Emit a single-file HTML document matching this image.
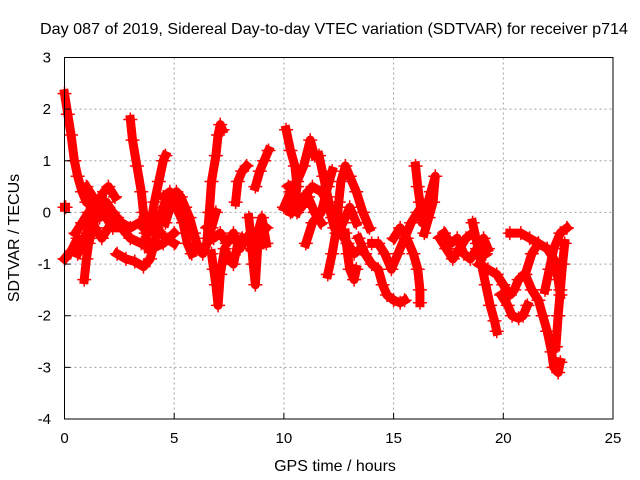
<!DOCTYPE html>
<html><head><meta charset="utf-8"><style>
body{margin:0;background:#fff}
svg{display:block;font-family:"Liberation Sans",sans-serif}
</style></head><body>
<svg id="chart" width="640" height="480" viewBox="0 0 640 480">
<rect width="640" height="480" fill="#fff"/>
<text x="334" y="34" text-anchor="middle" font-size="16" textLength="588" lengthAdjust="spacingAndGlyphs">Day 087 of 2019, Sidereal Day-to-day VTEC variation (SDTVAR) for receiver p714</text>
<g id="grid"></g>
<g id="marks"></g>
<rect x="64.5" y="57.5" width="548.5" height="361.5" fill="none" stroke="#000" stroke-width="1"/>
<g id="ticks"></g>
<text x="335" y="471" text-anchor="middle" font-size="16">GPS time / hours</text>
<text transform="translate(19,238) rotate(-90)" text-anchor="middle" font-size="16">SDTVAR / TECUs</text>
</svg>
<script>
const xTicks=[0,5,10,15,20,25];
const yTicks=[3,2,1,0,-1,-2,-3,-4];
const tracks=[
[[0,2.3],[0.15,1.9],[0.3,1.5],[0.45,1.0],[0.6,0.7],[0.8,0.4],[1.0,0.2],[1.3,0.1],[1.6,0.2],[2.0,0.1],[2.4,-0.1]],
[[0,-0.9],[0.3,-0.75],[0.6,-0.5]],
[[0.6,-0.8],[0.9,-0.5],[1.2,-0.2],[1.5,0.0],[1.9,-0.1],[2.2,-0.3],[2.6,-0.3],[3.0,-0.5],[3.5,-0.6],[4.0,-0.7],[4.5,-0.6],[5.0,-0.4]],
[[0.9,-1.3],[1.0,-0.9],[1.1,-0.6],[1.3,-0.3],[1.5,0.2],[1.8,0.4],[2.0,0.5],[2.3,0.3]],
[[1.0,0.5],[1.3,0.3],[1.6,-0.1],[1.9,0.2],[2.2,0.0],[2.5,-0.2]],
[[0.5,-0.4],[0.8,-0.2],[1.1,0.0],[1.4,-0.3],[1.7,-0.5],[2.0,-0.3]],
[[2.4,-0.8],[2.8,-0.9],[3.2,-0.95],[3.6,-1.05],[3.9,-0.9],[4.1,-0.6],[4.3,-0.2],[4.5,0.1],[4.7,0.3]],
[[2.6,-0.2],[3.0,-0.3],[3.4,-0.2],[3.8,-0.4],[4.2,-0.3],[4.6,-0.5],[5.0,-0.6]],
[[3.0,1.8],[3.1,1.4],[3.3,0.9],[3.5,0.4],[3.6,0.0],[3.7,-0.4],[3.8,-0.7]],
[[3.9,-0.3],[4.1,0.2],[4.3,0.6],[4.5,1.0],[4.6,1.1]],
[[4.6,-0.2],[4.9,0.2],[5.1,0.4],[5.3,0.3],[5.5,0.1],[5.7,-0.1],[5.9,-0.4],[6.1,-0.7],[6.3,-0.8],[6.5,-0.6],[6.7,-0.3],[6.9,0.0]],
[[4.5,0.3],[4.8,0.4],[5.1,0.1],[5.4,-0.2],[5.6,-0.6],[5.8,-0.8]],
[[6.5,-0.5],[6.6,0.0],[6.7,0.6],[6.9,1.1],[7.0,1.5],[7.1,1.7],[7.2,1.6]],
[[6.7,-0.8],[6.8,-1.1],[6.9,-1.4],[7.0,-1.8],[7.1,-1.2],[7.3,-0.7],[7.5,-0.9],[7.7,-1.0],[7.9,-0.6],[8.1,-0.5]],
[[6.5,-0.3],[6.8,-0.5],[7.1,-0.4],[7.4,-0.6],[7.7,-0.4],[8.0,-0.7],[8.3,-0.5]],
[[7.8,0.2],[7.9,0.6],[8.1,0.8],[8.3,0.9]],
[[8.4,-0.1],[8.5,-0.5],[8.6,-1.0],[8.7,-1.4],[8.8,-0.7],[9.0,-0.4],[9.2,-0.3]],
[[8.7,0.5],[8.9,0.8],[9.1,1.0],[9.3,1.2]],
[[8.5,-0.7],[8.8,-0.4],[9.0,-0.1],[9.2,-0.6]],
[[10.1,1.6],[10.3,1.2],[10.5,0.9],[10.6,0.5],[10.5,0.2],[10.3,0.0]],
[[10.0,0.1],[10.3,0.4],[10.6,0.6],[10.9,0.9],[11.2,1.4],[11.4,1.1]],
[[10.2,0.5],[10.5,0.3],[10.8,0.1],[11.1,0.3],[11.4,0.0],[11.7,-0.2]],
[[10.6,0.0],[10.9,0.3],[11.3,0.5],[11.7,0.4],[12.0,0.2],[12.3,-0.3],[12.6,-0.4],[12.9,-0.6],[13.2,-0.8],[13.5,-0.7]],
[[11.0,-0.6],[11.3,-0.2],[11.7,0.0],[12.0,0.5],[12.2,0.8]],
[[11.6,1.1],[11.8,0.7],[12.0,0.3],[12.2,-0.1],[12.4,-0.4],[12.7,-0.2],[13.0,0.1],[13.3,-0.2]],
[[12.0,-1.2],[12.2,-0.8],[12.4,-0.3],[12.5,0.2],[12.6,0.6],[12.8,0.9],[13.0,0.7],[13.3,0.4],[13.6,0.0],[13.9,-0.3]],
[[12.8,-0.4],[12.9,-0.8],[13.0,-1.1],[13.2,-1.3],[13.3,-1.1]],
[[13.4,-0.5],[13.7,-0.8],[14.0,-1.0],[14.3,-1.1],[14.5,-1.4],[14.7,-1.6],[15.0,-1.7],[15.3,-1.75],[15.5,-1.7]],
[[14.0,-0.6],[14.3,-0.6],[14.6,-0.8],[14.9,-1.1],[15.2,-0.8],[15.5,-0.5],[15.8,-0.2],[16.1,0.0]],
[[15.0,-0.5],[15.3,-0.3],[15.6,-0.5],[15.9,-0.8],[16.1,-1.1],[16.2,-1.5],[16.2,-1.75]],
[[16.0,0.9],[16.1,0.5],[16.2,0.2],[16.3,-0.2],[16.5,0.1],[16.7,0.4],[16.9,0.7],[16.8,0.2],[16.6,-0.1],[16.4,-0.4]],
[[17.1,-0.5],[17.4,-0.7],[17.7,-0.9],[18.0,-0.7],[18.3,-0.5],[18.6,-0.4],[18.9,-0.6],[19.2,-0.8]],
[[17.3,-0.4],[17.6,-0.6],[17.9,-0.5],[18.2,-0.8],[18.5,-0.9],[18.8,-0.7],[19.1,-0.5],[19.3,-0.7]],
[[18.6,-0.2],[18.8,-0.6],[19.0,-1.0],[19.2,-1.4],[19.4,-1.8],[19.6,-2.1],[19.7,-2.3]],
[[18.9,-1.0],[19.3,-1.1],[19.7,-1.2],[20.0,-1.4],[20.3,-1.6],[20.5,-1.5],[20.7,-1.3],[21.0,-1.2],[21.3,-0.8],[21.6,-0.6]],
[[19.9,-1.6],[20.2,-1.8],[20.4,-2.0],[20.7,-2.05],[20.9,-2.0],[21.1,-1.8]],
[[20.3,-0.4],[20.8,-0.4],[21.2,-0.5],[21.6,-0.6],[22.0,-0.7],[22.3,-0.9],[22.5,-1.3],[22.6,-1.6]],
[[21.0,-1.2],[21.3,-1.5],[21.6,-1.7],[21.8,-2.0],[22.0,-2.3],[22.2,-2.7],[22.3,-3.0],[22.5,-3.1],[22.6,-2.9]],
[[22.4,-2.6],[22.5,-2.0],[22.6,-1.5],[22.7,-1.0],[22.8,-0.6]],
[[21.9,-1.5],[22.1,-1.1],[22.3,-0.7],[22.6,-0.4],[22.9,-0.3]],
[[0,0.1],[0.05,0.1]]
];
const NS='http://www.w3.org/2000/svg';
const X0=64.5,XW=548.5,Y0=57.5,YH=361.5;
const sx=h=>X0+(h-0)/25*XW;
const sy=v=>Y0+(3-v)/7*YH;
function mk(t,a){const e=document.createElementNS(NS,t);for(const k in a)e.setAttribute(k,a[k]);return e;}
const grid=document.getElementById('grid'),ticks=document.getElementById('ticks'),marks=document.getElementById('marks');
xTicks.forEach(t=>{
  if(t>0&&t<25){const l=mk('line',{x1:sx(t),x2:sx(t),y1:Y0,y2:Y0+YH,stroke:'#a0a0a0','stroke-dasharray':'2,3'});
  
  grid.appendChild(l);}
  const tk=mk('line',{x1:sx(t),x2:sx(t),y1:Y0+YH,y2:Y0+YH-6,stroke:'#000'});
  
  ticks.appendChild(tk);
  const tx=mk('text',{x:sx(t),y:443,'text-anchor':'middle','font-size':'15'});tx.textContent=t;
  
  ticks.appendChild(tx);
});
yTicks.forEach(t=>{
  if(t<3&&t>-4){const l=mk('line',{x1:X0,x2:X0+XW,y1:sy(t),y2:sy(t),stroke:'#a0a0a0','stroke-dasharray':'2,3'});
  
  grid.appendChild(l);}
  const tk=mk('line',{x1:X0,x2:X0+6,y1:sy(t),y2:sy(t),stroke:'#000'});
  
  ticks.appendChild(tk);
  const tx=mk('text',{x:51,y:sy(t)+5,'text-anchor':'end','font-size':'15'});tx.textContent=t;
  
  ticks.appendChild(tx);
});
tracks.forEach(tr=>{
  const p=mk('polyline',{points:tr.map(d=>sx(d[0])+','+sy(d[1])).join(' '),fill:'none',stroke:'#ff0000','stroke-width':'9','stroke-linejoin':'round','stroke-linecap':'square'});
  
  marks.appendChild(p);
  tr.forEach(d=>{
    const x=sx(d[0]),y=sy(d[1]);
    const m=mk('path',{d:`M${x-7},${y}H${x+7}M${x},${y-7}V${y+7}`,stroke:'#ff0000','stroke-width':'1.5'});
    
    marks.appendChild(m);
  });
});
</script>
</body></html>
